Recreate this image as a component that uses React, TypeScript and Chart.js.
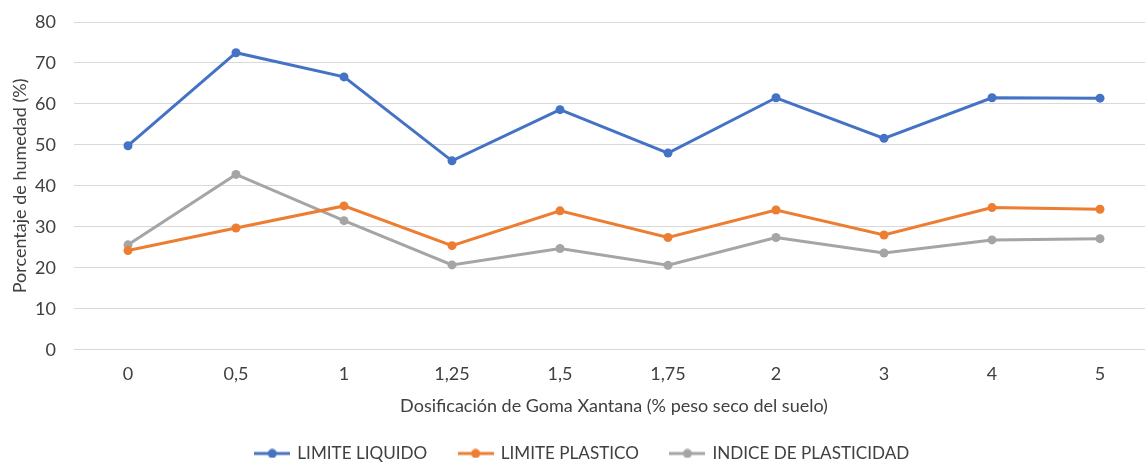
import React, { useEffect, useRef } from "react";
import { Chart, registerables } from "chart.js";

Chart.register(...registerables);

const categories = ["0", "0,5", "1", "1,25", "1,5", "1,75", "2", "3", "4", "5"];
const limiteLiquido = [49.8, 72.5, 66.6, 46.1, 58.6, 48.0, 61.5, 51.6, 61.5, 61.4];
const limitePlastico = [24.2, 29.7, 35.1, 25.4, 33.9, 27.4, 34.1, 28.0, 34.7, 34.3];
const indicePlasticidad = [25.6, 42.8, 31.5, 20.7, 24.7, 20.6, 27.4, 23.6, 26.8, 27.1];
const seriesNames = ["LIMITE LIQUIDO", "LIMITE PLASTICO", "INDICE DE PLASTICIDAD"];
const seriesColors = ["#4472C4", "#ED7D31", "#A5A5A5"];
const yTicks = [0, 10, 20, 30, 40, 50, 60, 70, 80];

const FONT = "Lato, 'Noto Sans', sans-serif";
const TEXT = "#404040";
const FS = 18;

function legendMarker(color: string): HTMLCanvasElement {
  const c = document.createElement("canvas");
  c.width = 36;
  c.height = 10;
  const ctx = c.getContext("2d")!;
  ctx.strokeStyle = color;
  ctx.lineWidth = 3;
  ctx.beginPath();
  ctx.moveTo(0, 5);
  ctx.lineTo(36, 5);
  ctx.stroke();
  ctx.fillStyle = color;
  ctx.beginPath();
  ctx.arc(18, 5, 4.5, 0, Math.PI * 2);
  ctx.fill();
  return c;
}

export default function App() {
  const ref = useRef<HTMLCanvasElement | null>(null);
  useEffect(() => {
    if (!ref.current) return;
    const data = [limiteLiquido, limitePlastico, indicePlasticidad];
    const markers = seriesColors.map(legendMarker);
    const chart = new Chart(ref.current, {
      type: "line",
      data: {
        labels: categories,
        datasets: data.map((d, i) => ({
          label: seriesNames[i],
          data: d,
          borderColor: seriesColors[i],
          backgroundColor: seriesColors[i],
          borderWidth: 3,
          pointRadius: 4.5,
          pointHoverRadius: 4.5,
          pointBorderWidth: 0,
          tension: 0,
        })),
      },
      options: {
        responsive: false,
        animation: false,
        layout: { padding: { left: 0, right: 0, top: 22, bottom: -10 } },
        plugins: {
          tooltip: { enabled: false },
          legend: {
            position: "bottom",
            labels: {
              usePointStyle: true,
              pointStyleWidth: 33,
              padding: 32,
              color: TEXT,
              font: { family: FONT, size: 17.1 },
              generateLabels: (ch: any) =>
                ch.data.datasets.map((ds: any, i: number) => ({
                  text: ds.label,
                  fillStyle: seriesColors[i],
                  strokeStyle: seriesColors[i],
                  lineWidth: 0,
                  pointStyle: markers[i],
                  fontColor: TEXT,
                  datasetIndex: i,
                  hidden: false,
                })),
            },
          },
        },
        scales: {
          x: {
            offset: true,
            afterFit: (s: any) => {
              s.paddingRight = 11;
            },
            grid: { display: false },
            border: { display: false },
            ticks: { color: TEXT, font: { family: FONT, size: FS }, padding: 6, maxRotation: 0 },
            title: {
              display: true,
              text: "Dosificación de Goma Xantana (% peso seco del suelo)",
              color: TEXT,
              font: { family: FONT, size: FS },
              padding: { top: 4, bottom: -4 },
            },
          },
          y: {
            min: 0,
            max: 80,
            afterFit: (s: any) => {
              s.width = 74;
              s.paddingTop = 0;
              s.paddingBottom = 0;
            },
            afterBuildTicks: (s: any) => {
              s.ticks = yTicks.map((v) => ({ value: v }));
            },
            grid: { color: "#D9D9D9", lineWidth: 1, drawTicks: false },
            border: { display: false },
            ticks: { color: TEXT, font: { family: FONT, size: FS }, padding: 18 },
            title: {
              display: true,
              text: "Porcentaje de humedad (%)",
              color: TEXT,
              font: { family: FONT, size: FS },
              padding: { top: 9, bottom: 0 },
            },
          },
        },
      },
    });
    return () => chart.destroy();
  }, []);
  return (
    <div style={{ position: "fixed", left: 0, top: 0, width: 1145, height: 462, overflow: "hidden", background: "#fff" }}>
      <canvas ref={ref} width={1165} height={462} style={{ display: "block", width: 1165, height: 462 }} />
    </div>
  );
}
